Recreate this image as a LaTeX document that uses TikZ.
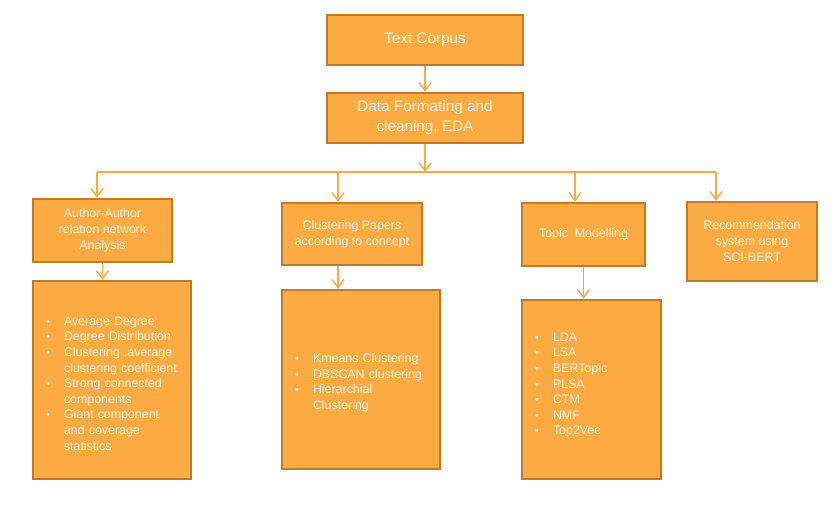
\documentclass[tikz,border=0pt]{standalone}
\usepackage{fontspec}
\setmainfont{Liberation Sans}
\usetikzlibrary{arrows.meta}
\definecolor{boxfill}{HTML}{FCAA42}
\definecolor{boxline}{HTML}{C07A2C}
\definecolor{arrcol}{HTML}{F9AA48}
\definecolor{txtcol}{HTML}{FFF4E2}
\newcommand{\bitem}[1]{\par\hyphenpenalty=10000\exhyphenpenalty=10000\hangindent=18pt\hangafter=1\noindent\makebox[18pt][l]{\fontsize{11}{11}\selectfont •}#1\par}
\tikzset{
  box/.style={draw=boxline, fill=boxfill, line width=2.4pt, text=txtcol, align=center, inner sep=2pt},
  bigtxt/.style={font=\fontsize{15.3}{20}\selectfont},
  smalltxt/.style={font=\fontsize{12.4}{16}\selectfont},
  listbox/.style={box, align=left, inner xsep=13pt, font=\fontsize{12.4}{15.6}\selectfont},
  arr/.style={draw=arrcol, line width=1.5pt, -{Straight Barb[length=8pt,width=12pt,line width=1.5pt]}},
  conn/.style={draw=arrcol, line width=1.5pt}
}
\begin{document}
\begin{tikzpicture}[x=1pt,y=-1pt]
\useasboundingbox (0,0) rectangle (837,505);
\node[box,bigtxt,minimum width=196pt,minimum height=50pt] (corpus) at (425,40) {Text Corpus};
\node[box,bigtxt,minimum width=196pt,minimum height=50pt] (data) at (425,118) {Data Formating and\\cleaning, EDA};
\node[box,smalltxt,minimum width=139pt,minimum height=63pt] (author) at (102.5,230.5) {Author-Author\\relation network\\Analysis};
\node[box,smalltxt,minimum width=140pt,minimum height=62pt] (clus) at (352,234) {Clustering Papers\\according to concept};
\node[box,smalltxt,minimum width=123pt,minimum height=63pt] (topic) at (583.5,234.5) {Topic\ \ Modelling};
\node[box,smalltxt,minimum width=130pt,minimum height=79pt] (rec) at (752,241.5) {Recommendation\\system using\\SCI-BERT};
\node[listbox,minimum width=158pt,minimum height=198pt,text width=132pt] (authlist) at (112,380) {%
\bitem{Average Degree}
\bitem{Degree Distribution}
\bitem{Clustering ,average clustering coefficient}
\bitem{Strong connected components}
\bitem{Giant component and coverage statistics}};
\node[listbox,minimum width=158pt,minimum height=179pt,text width=132pt] (cluslist) at (361,379.5) {%
\bitem{Kmeans Clustering}
\bitem{DBSCAN clustering}
\bitem{Hierarchial Clustering}};
\node[listbox,minimum width=139pt,minimum height=179pt,text width=113pt] (topiclist) at (591.5,389.5) {%
\bitem{LDA}
\bitem{LSA}
\bitem{BERTopic}
\bitem{PLSA}
\bitem{CTM}
\bitem{NMF}
\bitem{Top2Vec}\vspace{16pt}};
\coordinate (bus) at (425,172);
\coordinate (ba) at (97,172);
\coordinate (bc) at (338,172);
\coordinate (bt) at (575,172);
\coordinate (br) at (716,172);
\draw[arr] (corpus.south) -- (data.north);
\draw[arr] (data.south) -- (bus);
\draw[conn] (ba) -- (br);
\draw[arr] (ba) -- (ba |- author.north);
\draw[arr] (bc) -- (bc |- clus.north);
\draw[arr] (bt) -- (bt |- topic.north);
\draw[arr] (br) -- (br |- rec.north);
\draw[arr] (author.south) -- (author.south |- authlist.north);
\draw[arr] ([xshift=-14pt]clus.south) -- ([xshift=-14pt]clus.south |- cluslist.north);
\draw[arr] (topic.south) -- (topic.south |- topiclist.north);
\end{tikzpicture}
\end{document}
